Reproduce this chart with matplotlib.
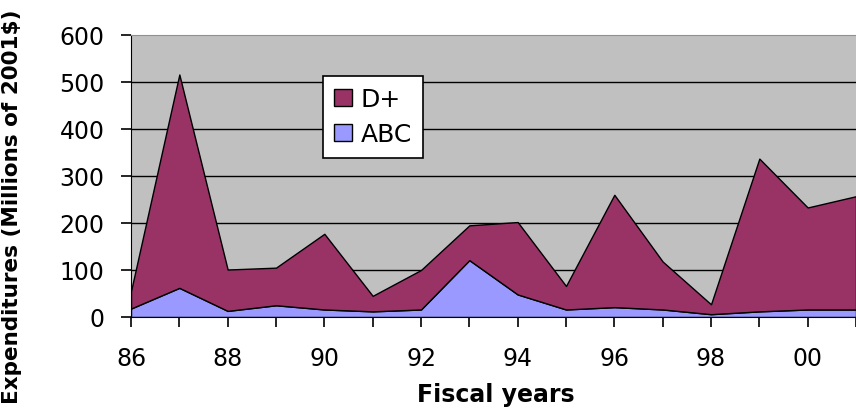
import matplotlib.pyplot as plt
import numpy as np

plt.rcParams['font.family'] = ['DejaVu Sans']

years = [1986, 1987, 1988, 1989, 1990, 1991, 1992, 1993,
         1994, 1995, 1996, 1997, 1998, 1999, 2000, 2001]
abc = [18, 62, 13, 25, 16, 12, 16, 121, 48, 16, 21, 16, 6, 12, 16, 16]
d_plus = [37, 454, 88, 80, 161, 33, 84, 74, 154, 50, 239, 102, 21, 325, 217, 241]
series_names = ["ABC", "D+"]
year_labels = ["86", "88", "90", "92", "94", "96", "98", "00"]

fig = plt.figure(figsize=(8.56, 4.14), dpi=100)
ax = fig.add_axes([131 / 856, 96 / 414, 725 / 856, 282 / 414])
ax.set_facecolor('#C0C0C0')

ax.stackplot(years, abc, d_plus, colors=['#9999FF', '#993366'],
             labels=series_names, edgecolor='black', linewidth=1.0)

ax.set_xlim(1986, 2000.86)
ax.set_ylim(0, 600)
ax.set_yticks(np.arange(0, 700, 100))
ax.set_xticks(years)
ax.set_xticklabels([year_labels[i // 2] if i % 2 == 0 else "" for i in range(len(years))])

for y in range(100, 600, 100):
    ax.axhline(y, color='black', linewidth=1.0, zorder=0.5)

ax.spines['right'].set_visible(False)
ax.spines['top'].set_color('#909090')
ax.spines['left'].set_color('black')
ax.spines['bottom'].set_color('black')

ax.tick_params(axis='both', labelsize=17, length=7, width=1.2, color='black')
ax.tick_params(axis='y', pad=12)
ax.tick_params(axis='x', pad=14)

ax.set_xlabel("Fiscal years", fontsize=17, fontweight='bold', va='center')
ax.xaxis.set_label_coords(0.503, -0.273)
ax.set_ylabel("Expenditures (Millions of 2001$)", fontsize=15.5, fontweight='bold', va='center')
ax.yaxis.set_label_coords(-0.164, 0.394)

handles, labels = ax.get_legend_handles_labels()
leg = ax.legend(handles[::-1], labels[::-1], loc='upper left', bbox_to_anchor=(0.265, 0.855),
                borderaxespad=0, fontsize=18, fancybox=False, framealpha=1,
                edgecolor='black', handlelength=0.7, handleheight=0.65,
                labelspacing=0.45, borderpad=0.45, handletextpad=0.35)
leg.get_frame().set_linewidth(1.2)

fig.savefig('out.png', dpi=100)
